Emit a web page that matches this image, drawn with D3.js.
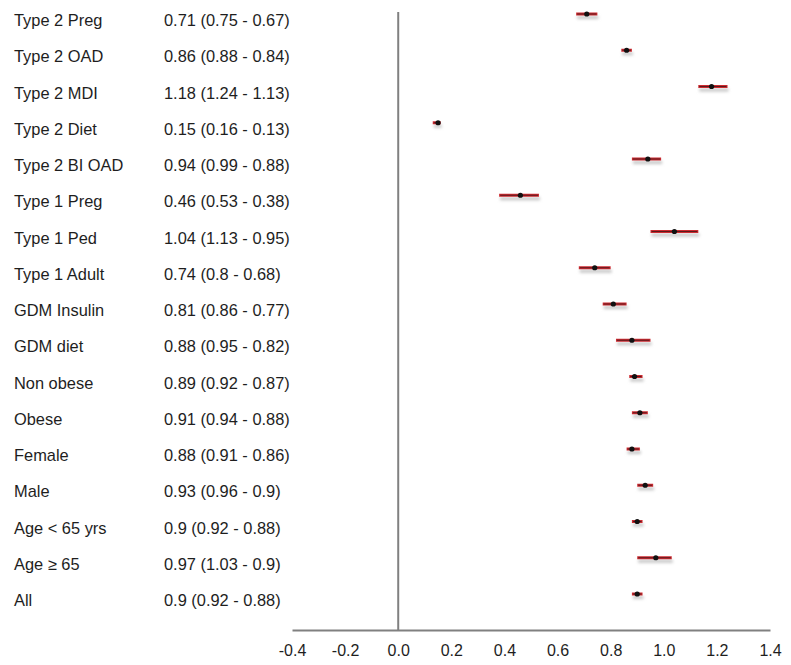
<!DOCTYPE html>
<html>
<head>
<meta charset="utf-8">
<script src="https://cdn.jsdelivr.net/npm/d3@7"></script>
<style>
  body { margin: 0; background: #fff; }
  text { font-family: "Liberation Sans", Arial, sans-serif; fill: #1e1e1e; }
</style>
</head>
<body>
<svg></svg>
<script>
let labels = ['Type 2 Preg', 'Type 2 OAD', 'Type 2 MDI', 'Type 2 Diet', 'Type 2 BI OAD',
  'Type 1 Preg', 'Type 1 Ped', 'Type 1 Adult', 'GDM Insulin', 'GDM diet',
  'Non obese', 'Obese', 'Female', 'Male', 'Age < 65 yrs', 'Age \u2265 65', 'All']
let estimates = [0.71, 0.86, 1.18, 0.15, 0.94, 0.46, 1.04, 0.74, 0.81, 0.88, 0.89, 0.91, 0.88, 0.93, 0.9, 0.97, 0.9]
let upper = [0.75, 0.88, 1.24, 0.16, 0.99, 0.53, 1.13, 0.8, 0.86, 0.95, 0.92, 0.94, 0.91, 0.96, 0.92, 1.03, 0.92]
let lower = [0.67, 0.84, 1.13, 0.13, 0.88, 0.38, 0.95, 0.68, 0.77, 0.82, 0.87, 0.88, 0.86, 0.9, 0.88, 0.9, 0.88]
let ticks = [-0.4, -0.2, 0.0, 0.2, 0.4, 0.6, 0.8, 1.0, 1.2, 1.4]

let width = 791
let height = 665

let svg = d3.select('svg')
svg.attr('width', width).attr('height', height)

// soft blur for the grey shadow under each bar
svg.append('defs').append('filter')
    .attr('id', 'blur')
    .attr('filterUnits', 'userSpaceOnUse')
    .attr('x', 0).attr('y', 0).attr('width', width).attr('height', height)
    .append('feGaussianBlur')
    .attr('stdDeviation', 1.6)

let xScale = d3.scaleLinear()
    .domain([-0.4, 1.4])
    .range([292, 770])

let yScale = d3.scalePoint()
    .domain(labels)
    .range([14, 594])

let axisY = 630

// axis
let xAxis = d3.axisBottom(xScale)
    .tickValues(ticks)
    .tickFormat(d => d3.format('.1f')(d).replace('\u2212', '-'))
    .tickSize(0)
    .tickPadding(15)

let gx = svg.append('g')
    .attr('transform', 'translate(0,' + axisY + ')')
    .call(xAxis)
gx.select('.domain').attr('stroke', '#808080').attr('stroke-width', 2)
gx.selectAll('text')
    .style('font-size', '16px')
    .style('font-family', '"Liberation Sans", Arial, sans-serif')
    .attr('fill', '#1e1e1e')

// zero line
svg.append('line')
    .attr('x1', xScale(0)).attr('x2', xScale(0))
    .attr('y1', 12).attr('y2', axisY)
    .attr('stroke', '#808080')
    .attr('stroke-width', 2)

let rows = labels.map((l, i) => ({label: l, est: estimates[i], hi: upper[i], lo: lower[i]}))

// row labels
svg.selectAll('.lab')
    .data(rows)
    .enter()
    .append('text')
    .attr('class', 'lab')
    .attr('x', 14)
    .attr('y', d => yScale(d.label) + 12)
    .style('font-size', '16.4px')
    .text(d => d.label)

svg.selectAll('.est')
    .data(rows)
    .enter()
    .append('text')
    .attr('class', 'est')
    .attr('x', 164)
    .attr('y', d => yScale(d.label) + 12)
    .style('font-size', '16.4px')
    .text(d => d.est + ' (' + d.hi + ' - ' + d.lo + ')')

// shadows
svg.selectAll('.shadow')
    .data(rows)
    .enter()
    .append('rect')
    .attr('class', 'shadow')
    .attr('x', d => xScale(d.lo) + 1)
    .attr('width', d => xScale(d.hi) - xScale(d.lo))
    .attr('y', d => yScale(d.label) + 2)
    .attr('height', 3)
    .attr('fill', '#c4c4c4')
    .attr('filter', 'url(#blur)')

// error bars: red edge with dark core
svg.selectAll('.ci')
    .data(rows)
    .enter()
    .append('rect')
    .attr('class', 'ci')
    .attr('x', d => xScale(d.lo))
    .attr('width', d => xScale(d.hi) - xScale(d.lo))
    .attr('y', d => yScale(d.label) - 1.5)
    .attr('height', 3)
    .attr('fill', '#cc2a30')

svg.selectAll('.core')
    .data(rows)
    .enter()
    .append('rect')
    .attr('class', 'core')
    .attr('x', d => xScale(d.lo) + 1)
    .attr('width', d => xScale(d.hi) - xScale(d.lo) - 2)
    .attr('y', d => yScale(d.label) - 0.5)
    .attr('height', 1)
    .attr('fill', '#5a1a1c')

svg.selectAll('.pt')
    .data(rows)
    .enter()
    .append('circle')
    .attr('class', 'pt')
    .attr('cx', d => xScale(d.est))
    .attr('cy', d => yScale(d.label))
    .attr('r', 2.6)
    .attr('fill', '#111')
</script>
</body>
</html>
